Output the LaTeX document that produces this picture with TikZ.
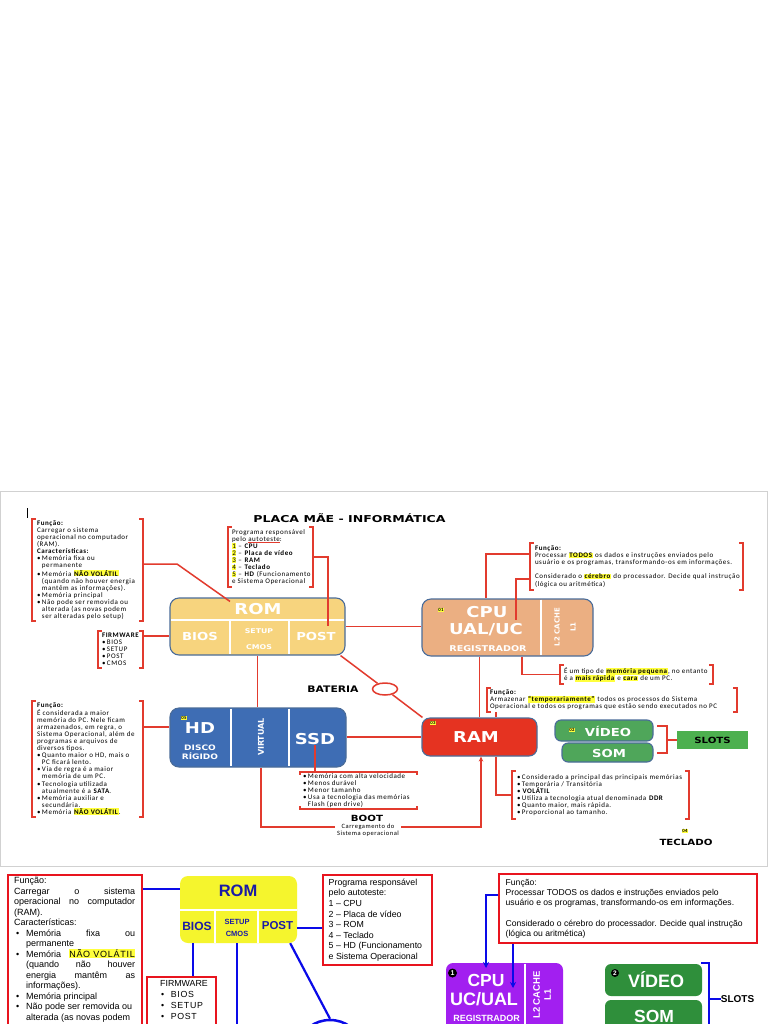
\documentclass[tikz,border=0pt]{standalone}
\usepackage{graphicx}
\usepackage{fontspec}
\setmainfont{Liberation Sans}
\newfontfamily\calf{Carlito}[LetterSpace=8]
\newfontfamily\heavy{DejaVu Sans}
\newfontfamily\arl{Liberation Sans}
\newfontfamily\arlsp{Liberation Sans}[LetterSpace=8]
\usetikzlibrary{arrows.meta,shapes.geometric}
\definecolor{redc}{HTML}{E23B2E}
\definecolor{romc}{HTML}{F7D47E}
\definecolor{cpuc}{HTML}{EBAF82}
\definecolor{ramc}{HTML}{E53321}
\definecolor{hdc}{HTML}{3E6DB4}
\definecolor{grnc}{HTML}{4FA65A}
\definecolor{slotc}{HTML}{4DB04F}
\definecolor{bordc}{HTML}{4A6C99}
\definecolor{hly}{HTML}{FFFF3C}
\definecolor{yel2}{HTML}{F5F52D}
\definecolor{dblue}{HTML}{1B1BA6}
\definecolor{bluec}{HTML}{0A0AE8}
\definecolor{red2}{HTML}{E8141E}
\definecolor{purp}{HTML}{A21FF0}
\definecolor{grn2}{HTML}{2F8F3B}
\newcommand\sm{\calf\fontsize{7}{7.1}\selectfont}
\newcommand\hv[1]{\heavy\bfseries\fontsize{#1}{#1}\selectfont}
\newcommand\hlt[1]{{\setlength{\fboxsep}{0.4pt}\colorbox{hly}{#1}}}
\newcommand\W[1]{\scalebox{1.2}[1]{#1}}
\newcommand\bl{•\hspace{1.5pt}}
\newcommand\ind{\hphantom{•\hspace{1.5pt}}}
\newcommand\bb{\makebox[12pt][l]{\hspace*{2pt}•}}
\newcommand\bi{\hspace*{12pt}}
\newcommand\mybrk[1]{%
 \draw[redln] ([xshift=4pt]#1.north west) -- (#1.north west) -- (#1.south west) -- ([xshift=4pt]#1.south west);
 \draw[redln] ([xshift=-4pt]#1.north east) -- (#1.north east) -- (#1.south east) -- ([xshift=-4pt]#1.south east);}
\tikzset{
 redln/.style={draw=redc, line width=1.5pt},
 frm/.style={inner sep=0pt, minimum width=#1},
 tx/.style={inner sep=0pt, align=left, font=\sm, text=black},
 tbox/.style={draw=bordc, line width=1.1pt, rounded corners=9pt, inner sep=0pt},
 lbl/.style={inner sep=0pt, text=white},
 hlnum/.style={inner sep=0pt, font=\calf\bfseries\fontsize{4.8}{5}\selectfont},
 bln/.style={draw=bluec, line width=2.2pt},
 rbox/.style={draw=red2, line width=2pt, inner sep=0pt},
 btx/.style={inner sep=0pt, align=left, font=\arl\fontsize{8.8}{10.6}\selectfont},
 dlbl/.style={inner sep=0pt, text=dblue},
 wlbl/.style={inner sep=0pt, text=white},
}
\begin{document}
\begin{tikzpicture}[x=1pt,y=-1pt]
\useasboundingbox (0,0) rectangle (768,1024);
\fill[white] (0,0) rectangle (768,1024);

% ================= TOP DIAGRAM =================
\draw[black!18, line width=0.8pt] (0.5,491) rectangle (767.5,866);
\draw[line width=0.6pt] (27,508) -- (27,518);
\node[inner sep=0pt, font={\hv{9.5}}] (title) at (349.5,518) {\scalebox{1.32}[1]{PLACA MÃE - INFORMÁTICA}};

% boxes
\node[tbox, fill=romc, minimum width=175pt, minimum height=57pt] (rom) at (257.5,626.5) {};
\draw[white, line width=1.2pt] (171,620) -- (344,620) (230,620) -- (230,654) (289,620) -- (289,654);
\node[tbox, fill=cpuc, minimum width=171pt, minimum height=57pt] (cpu) at (507.5,627.5) {};
\draw[white, line width=1.2pt] (541,599.6) -- (541,655.4);
\node[tbox, fill=ramc, rounded corners=8pt, minimum width=115pt, minimum height=38pt] (ram) at (479.5,737) {};
\node[tbox, fill=hdc, minimum width=176pt, minimum height=59pt] (hd) at (258,737.5) {};
\draw[white, line width=1.2pt] (231,708.6) -- (231,766.4) (289,708.6) -- (289,766.4);
\node[tbox, fill=grnc, rounded corners=6pt, minimum width=98pt, minimum height=21pt] (vid) at (604,730.5) {};
\node[tbox, fill=grnc, rounded corners=6pt, minimum width=91pt, minimum height=19pt] (som) at (607.5,752.5) {};
\node[fill=slotc, minimum width=71pt, minimum height=18pt, inner sep=0pt, font={\hv{8.5}}] (slots) at (712.5,740) {\W{SLOTS}};
\node[draw=redc, ellipse, line width=1.5pt, minimum width=25pt, minimum height=12pt, inner sep=0pt] (bat) at (385,689) {};

% bracket frames
\node[frm=111pt, minimum height=102pt] (romfn) at (87.5,570) {};
\node[frm=45pt, minimum height=37pt] (firm) at (120.5,649.5) {};
\node[frm=85pt, minimum height=60pt] (prog) at (270.5,557) {};
\node[frm=213pt, minimum height=47pt] (cpufn) at (636.5,566.5) {};
\node[frm=153pt, minimum height=19pt] (cpusm) at (636.5,674.5) {};
\node[frm=250pt, minimum height=24pt] (ramfn) at (612,700) {};
\node[frm=177pt, minimum height=48pt] (ramdt) at (600.5,795) {};
\node[frm=111pt, minimum height=116pt] (hdfn) at (87.5,759) {};
\node[frm=117pt, minimum height=37pt] (ssddt) at (358.5,790.5) {};
\mybrk{romfn}
\mybrk{firm}
\mybrk{prog}
\mybrk{cpufn}
\mybrk{cpusm}
\mybrk{ramfn}
\mybrk{ramdt}
\mybrk{hdfn}
\draw[redln] ([yshift=-3pt]ssddt.north west) -- (ssddt.north west) -- (ssddt.north east) -- ([yshift=-3pt]ssddt.north east);
\draw[redln] ([yshift=3pt]ssddt.south west) -- (ssddt.south west) -- (ssddt.south east) -- ([yshift=3pt]ssddt.south east);

% texts
\node[tx, anchor=west] (romfnT) at ([xshift=5pt]romfn.west) {\textbf{Função:}\\
Carregar o sistema\\
operacional  no computador\\
(RAM).\\
\textbf{Características:}\\
\bl Memória fixa ou\\
\ind permanente\\
\bl Memória \hlt{\textbf{NÃO VOLÁTIL}}\\
\ind (quando não houver energia\\
\ind mantêm as informações).\\
\bl Memória principal\\
\bl Não pode ser removida ou\\
\ind alterada (as novas podem\\
\ind ser alteradas pelo setup)};
\node[tx, anchor=west] (firmT) at ([xshift=4pt]firm.west) {\textbf{FIRMWARE}\\ \bl BIOS\\ \bl SETUP\\ \bl POST\\ \bl CMOS};
\node[tx, anchor=west] (progT) at ([xshift=4pt]prog.west) {Programa responsável\\
pelo {\color{redc}\underline{\color{black}autoteste}}:\\
\hlt{1} – \textbf{CPU}\\
\hlt{2} – \textbf{Placa de vídeo}\\
\hlt{3} – \textbf{RAM}\\
\hlt{4} – \textbf{Teclado}\\
\hlt{5} – \textbf{HD} (Funcionamento\\
e Sistema Operacional};
\node[tx, anchor=west] (cpufnT) at ([xshift=5pt]cpufn.west) {\textbf{Função:}\\
Processar \hlt{\textbf{TODOS}} os dados e instruções  enviados pelo\\
usuário e os programas, transformando-os  em informações.\\
\mbox{}\\
Considerado  o \hlt{\textbf{cérebro}} do processador.  Decide qual instrução\\
(lógica ou aritmética)};
\node[tx, anchor=west] (cpusmT) at ([xshift=4pt]cpusm.west) {É um tipo de \hlt{\textbf{memória pequena}}, no entanto\\
é a \hlt{\textbf{mais rápida}} e \hlt{\textbf{cara}} de um PC.};
\node[tx, anchor=west] (ramfnT) at ([xshift=3pt]ramfn.west) {\textbf{Função:}\\
Armazenar \hlt{\textbf{“temporariamente”}} todos os processos do Sistema\\
Operacional e todos os programas que estão sendo executados  no PC};
\node[tx, anchor=west] (ramdtT) at ([xshift=5pt]ramdt.west) {\bl Considerado  a principal  das principais  memórias\\
\bl Temporária / Transitória\\
\bl \textbf{VOLÁTIL}\\
\bl Utiliza  a tecnologia  atual denominada  \textbf{DDR}\\
\bl Quanto maior, mais rápida.\\
\bl Proporcional  ao tamanho.};
\node[tx, anchor=west] (hdfnT) at ([xshift=5pt]hdfn.west) {\textbf{Função:}\\
É considerada  a maior\\
memória  do PC. Nele ficam\\
armazenados, em regra, o\\
Sistema Operacional, além de\\
programas e arquivos  de\\
diversos tipos.\\
\bl Quanto maior o HD, mais o\\
\ind PC ficará lento.\\
\bl Via de regra é a maior\\
\ind memória de um PC.\\
\bl Tecnologia  utilizada\\
\ind atualmente  é a \textbf{SATA}.\\
\bl Memória auxiliar e\\
\ind secundária.\\
\bl Memória \hlt{\textbf{NÃO VOLÁTIL}}.};
\node[tx, anchor=west] (ssddtT) at ([xshift=3pt]ssddt.west) {\bl Memória com alta velocidade\\
\bl Menos durável\\
\bl Menor tamanho\\
\bl Usa a tecnologia  das memórias\\
\ind Flash (pen drive)};

\node[inner sep=0pt, font={\hv{8.5}}] (bootL) at (367,818) {\W{BOOT}};
\node[inner sep=0pt, align=center, font=\calf\fontsize{6.5}{6.6}\selectfont] (bootT) at (368,830) {Carregamento do\\Sistema operacional};
\node[inner sep=0pt, font={\hv{9}}] (batL) at (333,689) {\W{BATERIA}};
\node[hlnum] (t04) at (685,831) {\hlt{04}};
\node[inner sep=0pt, font={\hv{8.5}}] (tecL) at (686,842) {\W{TECLADO}};

% connectors
\coordinate (bend1) at (177,564);
\draw[redln] ([yshift=6pt]romfn.east) -- (bend1) -- ([xshift=-27.5pt,yshift=-4pt]rom.north);
\draw[redln] ([yshift=13.5pt]firm.east) -- ([yshift=-9.5pt]rom.west);
\coordinate (postin) at (328,626);
\draw[redln] (prog.east) -| (postin);
\draw[redln] (rom.east) -- (rom.east -| cpu.west);
\draw[redln] ([yshift=12.5pt]cpufn.west) -| ([xshift=-21.5pt]cpu.north);
\coordinate (cpuin) at (516,620);
\draw[redln] ([yshift=-12.5pt]cpufn.west) -| (cpuin);
\draw[redln] ([xshift=14.5pt]cpu.south) |- (cpusm.west);
\draw[redln] (ram.north |- cpu.south) -- (ram.north);
\coordinate (rf) at ([xshift=16.5pt]ram.north);
\draw[redln] (rf) -- (rf |- ramfn.south);
\coordinate (rf2) at ([xshift=16.5pt]ram.south);
\draw[redln] (rf2) |- (ramdt.west);
\draw[redln] ([yshift=32pt]hdfn.east) -- ([yshift=10.5pt]hd.west);
\draw[redln] (rom.south) -- (rom.south |- hd.north);
\draw[redln] ([xshift=-5pt]rom.south east) -- (bat);
\draw[redln] (bat) -- ([xshift=1pt]ram.north west);
\draw[redln] (hd.east |- ram.west) -- (ram.west);
\coordinate (vb) at ([xshift=3pt]hd.south);
\draw[redln] (vb) |- ([yshift=3pt,xshift=-2pt]bootT.west);
\draw[redln, -{Stealth[length=5pt,width=4.5pt]}] ([yshift=3pt,xshift=2pt]bootT.east) -| ([xshift=1.5pt]ram.south);
\coordinate (vbr1) at (657,726);
\coordinate (vbr2) at (657,753);
\coordinate (vbrm) at (667,740);
\draw[redln] (vbr1) -- (vbr1 -| vbrm) -- (vbr2 -| vbrm) -- (vbr2);
\draw[redln] (vbrm) -- (slots.west);

% box labels
\node[lbl, font={\hv{15}}] (romL) at (258,609.5) {\W{ROM}};
\node[lbl, font={\hv{11}}] (biosL) at (200,636) {\W{BIOS}};
\node[lbl, font={\hv{6.5}}] (setupL) at (259,631) {\W{SETUP}};
\node[lbl, font={\hv{6.5}}] (cmosL) at (259,647.5) {\W{CMOS}};
\node[lbl, font={\hv{11}}] (postL) at (316,636) {\W{POST}};
\node[hlnum] (cpu01) at (441,610) {\hlt{01}};
\node[lbl, font={\hv{15}}] (cpuL) at (487,612) {\W{CPU}};
\node[lbl, font={\hv{15}}] (ualL) at (486,629.5) {\W{UAL/UC}};
\node[lbl, font={\hv{8}}] (regL) at (488,649) {\W{REGISTRADOR}};
\node[lbl, font={\hv{7}}, rotate=90] (l2L) at (557,627) {L2 CACHE};
\node[lbl, font={\hv{7}}, rotate=90] (l1L) at (573,627) {L1};
\node[hlnum] (ram03) at (433,723) {\hlt{03}};
\node[lbl, font={\hv{15}}] (ramL) at (476,737.5) {\W{RAM}};
\node[hlnum] (hd05) at (184,718) {\hlt{05}};
\node[lbl, font={\hv{15}}] (hdL) at (200,728) {\W{HD}};
\node[lbl, font={\hv{7.5}}] (discoL) at (200,747.5) {\W{DISCO}};
\node[lbl, font={\hv{7.5}}] (rigL) at (200,756) {\W{RÍGIDO}};
\node[lbl, font={\hv{8}}, rotate=90] (virtL) at (261,737) {VIRTUAL};
\node[lbl, font={\hv{15}}] (ssdL) at (315,739.5) {\W{SSD}};
\draw[redln] (ssdL.south) -- (ssdL.south |- ssddt.north);
\node[hlnum] (vid02) at (572,730) {\hlt{02}};
\node[lbl, font={\hv{11}}] (vidL) at (608,731.5) {\W{VÍDEO}};
\node[lbl, font={\hv{11}}] (somL) at (609,753) {\W{SOM}};

% ================= BOTTOM DIAGRAM =================
\node[rbox, minimum width=134pt, minimum height=170pt] (rom2fn) at (75,960) {};
\node[btx, anchor=north west, font=\arl\fontsize{9}{10.5}\selectfont] (rom2fnT) at (14,877) {Função:\\
\makebox[121pt][s]{Carregar o sistema}\\
\makebox[121pt][s]{operacional no computador}\\
(RAM).\\
Características:\\
\bb\makebox[109pt][s]{Memória fixa ou}\\
\bi permanente\\
\bb\makebox[109pt][s]{Memória \hlt{\arlsp NÃO VOLÁTIL}}\\
\bi\makebox[109pt][s]{(quando não houver}\\
\bi\makebox[109pt][s]{energia mantêm as}\\
\bi informações).\\
\bb Memória principal\\
\bb Não pode ser removida ou\\
\bi alterada (as novas podem};

\node[fill=yel2, rounded corners=8pt, minimum width=117pt, minimum height=67pt, inner sep=0pt] (rom2) at (238.5,909.5) {};
\draw[white, line width=1.8pt] (180,910) -- (297,910) (215,910) -- (215,943) (258,910) -- (258,943);
\node[dlbl, font=\arl\bfseries\fontsize{16.5}{16.5}\selectfont] (rom2L) at (238,891) {ROM};
\node[dlbl, font=\arl\bfseries\fontsize{12}{12}\selectfont] (bios2L) at (197,926) {BIOS};
\node[dlbl, font=\arl\bfseries\fontsize{7.5}{7.5}\selectfont] (setup2L) at (237,922) {SETUP};
\node[dlbl, font=\arl\bfseries\fontsize{7.5}{7.5}\selectfont] (cmos2L) at (237,934) {CMOS};
\node[dlbl, font=\arl\bfseries\fontsize{11.5}{11.5}\selectfont] (post2L) at (277.5,926) {POST};

\node[rbox, minimum width=109pt, minimum height=90pt] (prog2) at (377.5,920) {};
\node[btx, anchor=west] (prog2T) at ([xshift=6.5pt]prog2.west) {Programa responsável\\
pelo autoteste:\\
1 – CPU\\
2 – Placa de vídeo\\
3 – ROM\\
4 – Teclado\\
5 – HD (Funcionamento\\
e Sistema Operacional};

\node[rbox, minimum width=69pt, minimum height=70pt] (firm2) at (181.5,1012) {};
\node[btx, anchor=north west, font=\arl\fontsize{8.8}{11}\selectfont] (firm2T) at (160,980) {FIRMWARE\\
\hspace*{1pt}•\hspace*{6.5pt}{\arlsp BIOS}\\
\hspace*{1pt}•\hspace*{6.5pt}{\arlsp SETUP}\\
\hspace*{1pt}•\hspace*{6.5pt}{\arlsp POST}};

\node[rbox, minimum width=258pt, minimum height=69pt] (cpu2fn) at (628,908.5) {};
\node[btx, anchor=west, font=\arl\fontsize{8.6}{10.25}\selectfont] (cpu2fnT) at ([xshift=7.5pt]cpu2fn.west) {Função:\\
Processar TODOS os dados e instruções enviados pelo\\
usuário e os programas, transformando-os em informações.\\
\mbox{}\\
Considerado o cérebro do processador. Decide qual instrução\\
(lógica ou aritmética)};

\node[fill=purp, rounded corners=7pt, minimum width=117pt, minimum height=90pt, inner sep=0pt] (cpu2) at (504.5,1008) {};
\draw[white, line width=1.5pt] (525,963.5) -- (525,1053);
\node[circle, fill=black, text=white, inner sep=0pt, minimum size=9pt, font=\arl\bfseries\fontsize{7}{7}\selectfont] (n1) at (452.5,973) {1};
\node[wlbl, font=\arl\bfseries\fontsize{17.5}{17.5}\selectfont] (cpu2L) at (486,980) {CPU};
\node[wlbl, font=\arl\bfseries\fontsize{18}{18}\selectfont] (ucL) at (484,999) {UC/UAL};
\node[wlbl, font=\arl\bfseries\fontsize{9}{9}\selectfont, anchor=north] (reg2L) at (486.5,1015) {REGISTRADOR};
\node[wlbl, font=\arl\bfseries\fontsize{9.5}{9.5}\selectfont, rotate=90] (l22L) at (536.5,995) {L2 CACHE};
\node[wlbl, font=\arl\bfseries\fontsize{9.5}{9.5}\selectfont, rotate=90] (l12L) at (547.5,995) {L1};

\node[fill=grn2, rounded corners=6pt, minimum width=97pt, minimum height=32pt, inner sep=0pt] (vid2) at (653.5,980) {};
\node[fill=grn2, rounded corners=6pt, minimum width=97pt, minimum height=45pt, inner sep=0pt] (som2) at (653.5,1022.5) {};
\node[circle, fill=black, text=white, inner sep=0pt, minimum size=8pt, font=\arl\bfseries\fontsize{6.5}{6.5}\selectfont] (n2) at (615,973) {2};
\node[wlbl, font=\arl\bfseries\fontsize{18}{18}\selectfont] (vid2L) at (656,980) {VÍDEO};
\node[wlbl, font=\arl\bfseries\fontsize{17.5}{17.5}\selectfont] (som2L) at (654,1016) {SOM};
\node[inner sep=0pt, font=\arl\bfseries\fontsize{10}{10}\selectfont] (slots2) at (737.5,999) {SLOTS};
\node[draw=bluec, ellipse, line width=2.5pt, minimum width=56pt, minimum height=44pt, inner sep=0pt] (bat2) at (330,1042) {};

% bottom connectors
\coordinate (ya) at (0,889);
\draw[bln] (rom2fn.east |- ya) -- (rom2.west |- ya);
\coordinate (bx) at (193,0);
\draw[bln] (bx |- rom2.south) -- (bx |- firm2.north);
\coordinate (sx) at (237,1048);
\draw[bln] (sx |- rom2.south) -- (sx);
\draw[bln] ([xshift=-7pt]rom2.south east) -- (bat2.north);
\coordinate (yb) at (0,928);
\draw[bln] (rom2.east |- yb) -- (prog2.west |- yb);
\coordinate (tipA) at (486,968);
\draw[bln, -{Stealth[length=6pt,width=6pt]}] ([yshift=13.5pt]cpu2fn.west) -| (tipA);
\coordinate (tipB) at (513,988);
\draw[bln, -{Stealth[length=6pt,width=6pt]}] (tipB |- cpu2fn.south) -- (tipB);
\coordinate (sb1) at (701,963);
\coordinate (sb2) at (709,1048);
\draw[bln, line width=2pt] (sb1) -- (sb1 -| sb2) -- (sb2);
\coordinate (sbm) at (709,999);
\draw[bln, line width=2pt] (sbm) -- (slots2.west);
\end{tikzpicture}
\end{document}
